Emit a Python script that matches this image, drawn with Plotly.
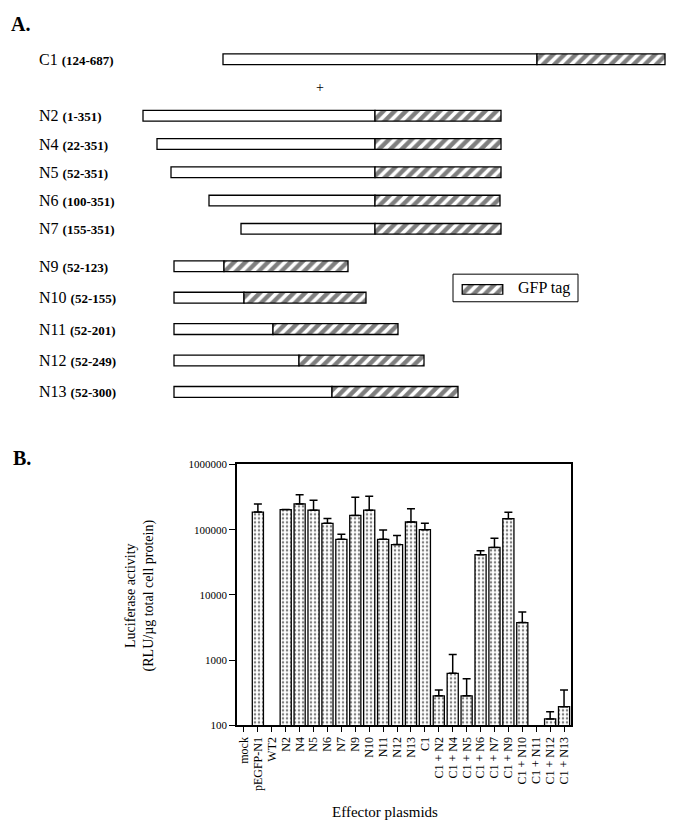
import plotly.graph_objects as go

# page body has an 8px margin, so the figure is a bit smaller and shifted
OFF = 8
W, H = 675 - OFF, 833 - OFF
FONT = "Liberation Serif"

# ---- panel A : constructs (schematic units) ----
rows_top = ["C1", "+", "N2", "N4", "N5", "N6", "N7"]
names_top = ["C1", "N2", "N4", "N5", "N6", "N7"]
aa_top = ["124-687", "1-351", "22-351", "52-351", "100-351", "155-351"]
box_start_top = [223, 143, 157, 171, 209, 241]
tag_start_top = [537, 375, 375, 375, 375, 375]
tag_end_top = [665, 501, 501, 501, 500, 501]

names_bot = ["N9", "N10", "N11", "N12", "N13"]
aa_bot = ["52-123", "52-155", "52-201", "52-249", "52-300"]
box_start_bot = [174, 174, 174, 174, 174]
tag_start_bot = [224, 244, 273, 299, 332]
tag_end_bot = [348, 366, 398, 424, 458]

# ---- panel B : luciferase activity ----
plasmids = ["mock", "pEGFP-N1", "WT2", "N2", "N4", "N5", "N6", "N7", "N9", "N10",
            "N11", "N12", "N13", "C1", "C1 + N2", "C1 + N4", "C1 + N5", "C1 + N6",
            "C1 + N7", "C1 + N9", "C1 + N10", "C1 + N11", "C1 + N12", "C1 + N13"]
activity = [None, 186000, None, 203000, 248000, 199000, 125000, 71000, 165000, 199000,
            71000, 59000, 131000, 100000, 285, 629, 285, 41300,
            53400, 147000, 3770, None, 126, 194]
err_up = [None, 60000, None, 0, 95000, 83000, 23000, 14000, 148000, 126000,
          28000, 22000, 77000, 25000, 66, 591, 236, 6300,
          20600, 38000, 1690, None, 37, 157]


def px(x):
    return (x - OFF) / W


def py(y):
    return 1 - (y - OFF) / H


hatch = dict(shape="/", fgcolor="black", bgcolor="white", size=8, solidity=0.55)
outline = dict(color="black", width=1.3)

fig = go.Figure()

# panel A bars
for names, b0, t0, t1, ya, wd in [
    (names_top, box_start_top, tag_start_top, tag_end_top, "y2", 0.38),
    (names_bot, box_start_bot, tag_start_bot, tag_end_bot, "y3", 0.345),
]:
    fig.add_trace(go.Bar(y=names, x=[t - b for b, t in zip(b0, t0)], base=b0,
                         orientation="h", width=wd, xaxis="x2", yaxis=ya,
                         marker=dict(color="white", line=outline),
                         showlegend=False, hoverinfo="skip"))
    fig.add_trace(go.Bar(y=names, x=[e - t for t, e in zip(t0, t1)], base=t0,
                         orientation="h", width=wd, xaxis="x2", yaxis=ya,
                         marker=dict(color="white", pattern=hatch, line=outline),
                         showlegend=False, hoverinfo="skip"))

# legend swatch
fig.add_trace(go.Bar(y=["GFP tag"], x=[1], base=[0], orientation="h", width=1,
                     xaxis="x4", yaxis="y4",
                     marker=dict(color="white", pattern=hatch, line=outline),
                     showlegend=False, hoverinfo="skip"))

# panel B bars
fig.add_trace(go.Bar(
    x=plasmids, y=activity,
    marker=dict(color="white", line=outline,
                pattern=dict(shape=".", fgcolor="black", bgcolor="white",
                             size=4, solidity=0.3)),
    error_y=dict(type="data", symmetric=False, array=err_up,
                 arrayminus=[0] * len(err_up), color="black", thickness=1.5, width=4),
    showlegend=False,
))


def note(x, y, text, size, **kw):
    d = dict(x=px(x), y=py(y), xref="paper", yref="paper", text=text, showarrow=False,
             xanchor="center", yanchor="middle",
             font=dict(family=FONT, size=size, color="black"))
    d.update(kw)
    return d


annotations = []
for names, aa, ya in [(names_top, aa_top, "y2"), (names_bot, aa_bot, "y3")]:
    for n, r in zip(names, aa):
        annotations.append(dict(
            x=px(37), xref="paper", y=n, yref=ya, xanchor="left", yanchor="middle",
            text=f"{n} <b><span style='font-size:13px'>({r})</span></b>",
            showarrow=False, font=dict(family=FONT, size=16, color="black")))

annotations += [
    dict(x=320, xref="x2", y="+", yref="y2", text="+", showarrow=False,
         xanchor="center", yanchor="middle",
         font=dict(family=FONT, size=14, color="black")),
    note(9, 18, "<b>A.</b>", 20, xanchor="left"),
    note(11, 459, "<b>B.</b>", 20, xanchor="left"),
    note(516, 286, "GFP tag", 16, xanchor="left"),
    note(140, 598, "Luciferase activity<br>(RLU/µg total cell protein)", 14, textangle=-90),
    note(385, 818, "Effector plasmids", 15),
]

hidden = dict(visible=False, showgrid=False, zeroline=False, fixedrange=True)

fig.update_layout(
    width=W, height=H,
    margin=dict(l=0, r=0, t=0, b=0),
    paper_bgcolor="white", plot_bgcolor="white",
    barmode="overlay", bargap=0.2,
    font=dict(family=FONT, color="black"),
    xaxis=dict(domain=[px(237), px(571)], type="category", tickangle=-90,
               tickmode="linear", tick0=0, dtick=1,
               showline=True, linecolor="black", linewidth=1.5, mirror=True,
               ticks="outside", ticklen=5, tickcolor="black",
               tickfont=dict(family=FONT, size=12, color="black"),
               showgrid=False, zeroline=False, anchor="y"),
    yaxis=dict(domain=[py(730), py(465)], type="log", range=[2, 6],
               tickvals=[100, 1000, 10000, 100000, 1000000],
               ticktext=["100", "1000", "10000", "100000", "1000000"],
               showline=True, linecolor="black", linewidth=1.5, mirror=True,
               ticks="outside", ticklen=6, tickcolor="black",
               tickfont=dict(family=FONT, size=11, color="black"),
               showgrid=False, zeroline=False, anchor="x"),
    xaxis2=dict(domain=[0, 1], range=[OFF, OFF + W], anchor="y2", **hidden),
    yaxis2=dict(domain=[py(54 + 6 * 28.67 + 14.33), py(54 - 14.33)], type="category",
                categoryorder="array", categoryarray=rows_top,
                range=[6.5, -0.5], anchor="x2", **hidden),
    yaxis3=dict(domain=[py(391.5 + 15.94), py(264 - 15.94)], type="category",
                categoryorder="array", categoryarray=names_bot,
                range=[4.5, -0.5], anchor="x2", **hidden),
    xaxis4=dict(domain=[px(461), px(504)], range=[-0.03, 1.03], anchor="y4", **hidden),
    yaxis4=dict(domain=[py(293), py(282)], range=[-0.55, 0.55], anchor="x4", **hidden),
    shapes=[dict(type="rect", xref="paper", yref="paper",
                 x0=px(453), x1=px(578), y0=py(300), y1=py(272),
                 line=dict(color="black", width=1))],
    annotations=annotations,
)

fig.write_html("out.html")
